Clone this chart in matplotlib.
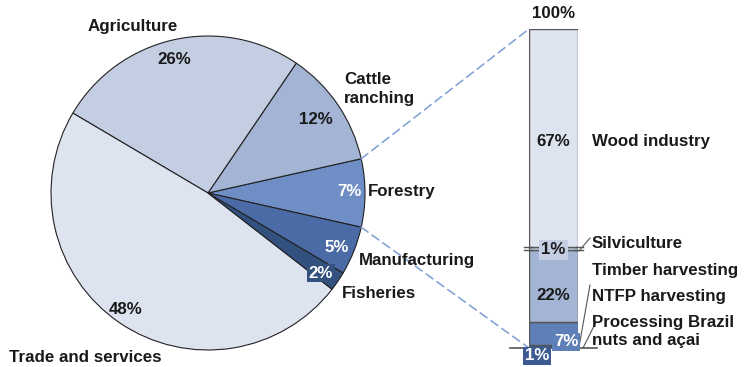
import numpy as np
import matplotlib.pyplot as plt
from matplotlib.patches import ConnectionPatch

plt.rcParams['font.family'] = ['Liberation Sans', 'DejaVu Sans']
plt.rcParams['font.weight'] = 'bold'

# economic sectors (pie), starting with forestry and going counter-clockwise
sectors = ['Forestry', 'Cattle ranching', 'Agriculture', 'Trade and services',
           'Fisheries', 'Manufacturing']
shares = [7, 12, 26, 48, 2, 5]
sector_colors = ['#6f8ec5', '#a3b4d5', '#c4cee3', '#dde3ef', '#33517f', '#4b6ba7']

# forestry breakdown (stacked bar), bottom to top
activities = ['Processing Brazil\nnuts and açai', 'NTFP harvesting', 'Timber harvesting',
              'Silviculture', 'Wood industry']
act_shares = [1, 7, 22, 1, 67]
act_colors = ['#3c5b92', '#5f7fb9', '#a3b4d5', '#c4cee3', '#dde3ef']

W, H = 746, 367
fig = plt.figure(figsize=(W / 100, H / 100), dpi=100)


def fx(x):
    return x / W


def fy(y):
    return 1 - y / H


# pie: centre (208, 193) px, radius 157 px
cx, cy, r = 208, 193, 157
ax_pie = fig.add_axes([fx(cx - r), fy(cy + r), 2 * r / W, 2 * r / H])
start = -shares[0] / 100 * 360 / 2
wedges, _ = ax_pie.pie(shares, colors=sector_colors, startangle=start, counterclock=True,
                       wedgeprops=dict(edgecolor='#222222', linewidth=0.8))
ax_pie.set_xlim(-1, 1)
ax_pie.set_ylim(-1, 1)
ax_pie.set_aspect('auto')
ax_pie.axis('off')

# stacked bar for the forestry breakdown
bx0, bx1, by_top, by_bot = 529, 578, 29, 348
ax_bar = fig.add_axes([fx(bx0), fy(by_bot), (bx1 - bx0) / W, (by_bot - by_top) / H])
total = sum(act_shares)
bottom = 0
for val, col in zip(act_shares, act_colors):
    ax_bar.bar(0.5, val, width=1, bottom=bottom, color=col, edgecolor='#555555', linewidth=1)
    bottom += val
ax_bar.set_xlim(0, 1)
ax_bar.set_ylim(0, total)
ax_bar.axis('off')

# ground line under the bar
ax_bar.plot([-0.38, 1.38], [0, 0], color='#555555', lw=1.2, clip_on=False)

# break marks around the silviculture slice
s_lo = sum(act_shares[:3])
s_hi = s_lo + act_shares[3]
for yv in (s_lo, s_hi):
    ax_bar.plot([-0.1, 0.06], [yv, yv], color='#555555', lw=1, clip_on=False)
    ax_bar.plot([0.94, 1.1], [yv, yv], color='#555555', lw=1, clip_on=False)

# dashed connectors from the forestry wedge to the bar
fw = wedges[0]
for ang, ybar in ((fw.theta2, total), (fw.theta1, 0)):
    a = np.deg2rad(ang)
    con = ConnectionPatch(xyA=(np.cos(a), np.sin(a)), coordsA=ax_pie.transData,
                          xyB=(0, ybar), coordsB=ax_bar.transData,
                          color='#86a4d8', lw=1.2, linestyle=(0, (5, 3)))
    fig.add_artist(con)

fs = 12.2


def label(x, y, s, ha='left', color='#1a1a1a', **kw):
    fig.text(fx(x), fy(y), s, ha=ha, va='center', fontsize=fs, color=color,
             fontweight='bold', **kw)


# pie labels
label(133, 27, sectors[2], ha='center')
label(174, 59, f'{shares[2]}%', ha='center')
label(344, 89, 'Cattle\nranching', linespacing=1.3)
label(316, 120, f'{shares[1]}%', ha='center')
label(349, 192, f'{shares[0]}%', ha='center', color='white')
label(368, 192, sectors[0])
label(337, 247, f'{shares[5]}%', ha='center', color='white')
label(359, 260, sectors[5])
label(321, 273, f'{shares[4]}%', ha='center', color='white',
      bbox=dict(boxstyle='square,pad=0.1', facecolor=sector_colors[4], edgecolor='none'))
label(342, 293, sectors[4])
label(126, 310, f'{shares[3]}%', ha='center')
label(9, 358, sectors[3])

# bar labels
bc = (bx0 + bx1) / 2
label(bc, 14, '100%', ha='center')
label(bc, 142, f'{act_shares[4]}%', ha='center')
label(592, 142, activities[4])
label(bc, 250, f'{act_shares[3]}%', ha='center',
      bbox=dict(boxstyle='square,pad=0.12', facecolor=act_colors[3], edgecolor='none'))
label(592, 243, activities[3])
label(592, 270, activities[2])
label(bc, 296, f'{act_shares[2]}%', ha='center')
label(592, 296, activities[1])
label(592, 332, activities[0], linespacing=1.25)
label(566, 342, f'{act_shares[1]}%', ha='center', color='white',
      bbox=dict(boxstyle='square,pad=0.1', facecolor=act_colors[1], edgecolor='none'))
label(537, 356, f'{act_shares[0]}%', ha='center', color='white',
      bbox=dict(boxstyle='square,pad=0.1', facecolor=act_colors[0], edgecolor='none'))

# leader lines from the bar to its side labels
fig.add_artist(plt.Line2D([fx(579), fx(590)], [fy(251), fy(238)], color='#555555', lw=0.8))
fig.add_artist(plt.Line2D([fx(579), fx(590)], [fy(347), fy(285)], color='#555555', lw=0.8))
fig.add_artist(plt.Line2D([fx(583), fx(596)], [fy(348), fy(322)], color='#555555', lw=0.8))

fig.savefig('out.png', dpi=100)
